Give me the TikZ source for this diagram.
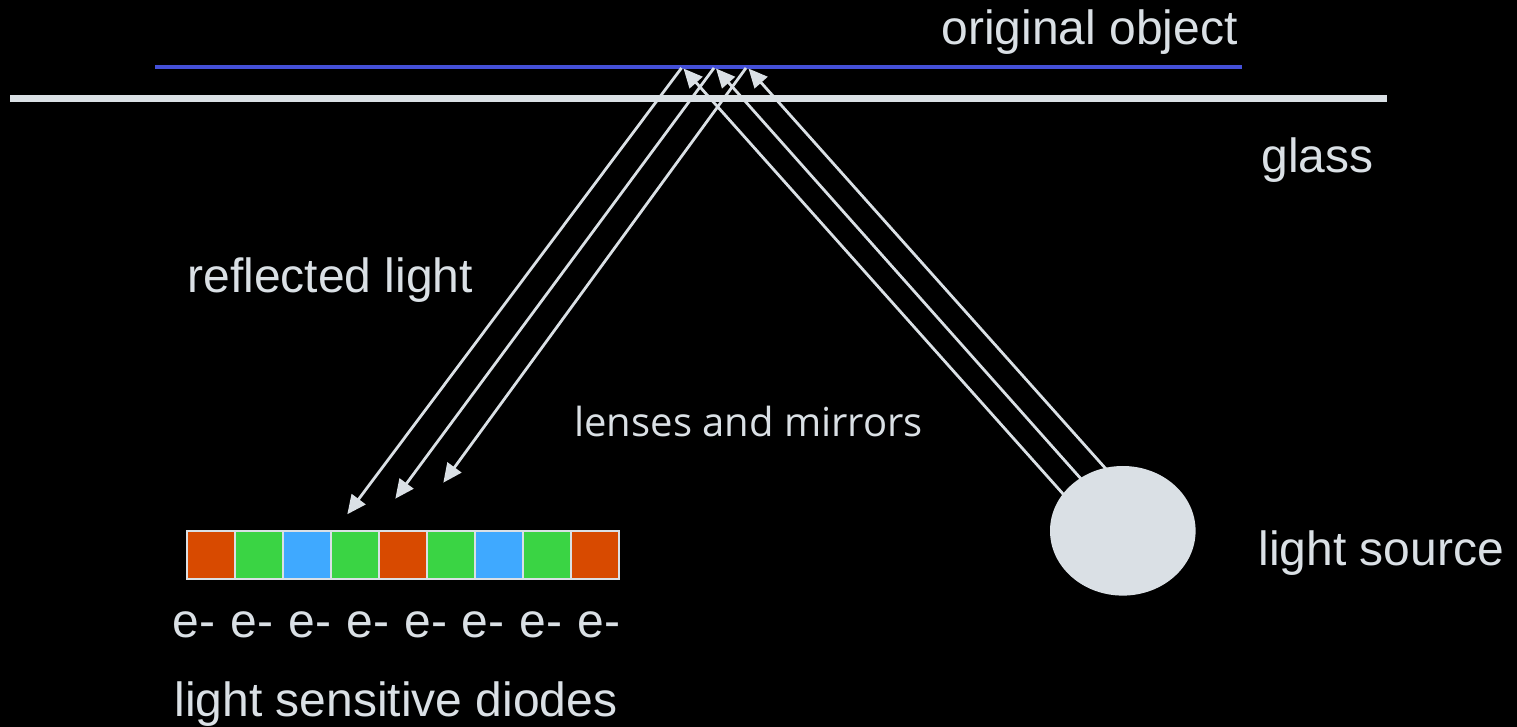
\documentclass[tikz,border=0pt]{standalone}
\usepackage{fontspec}
\setmainfont{Liberation Sans}
\newfontfamily\lensfont{Open Sans}
\usetikzlibrary{arrows.meta,shapes.geometric}
\definecolor{pale}{HTML}{DAE0E5}
\definecolor{objblue}{HTML}{4450D8}
\definecolor{cellred}{HTML}{D84A00}
\definecolor{cellgreen}{HTML}{3AD444}
\definecolor{cellblue}{HTML}{3FA9FF}
\tikzset{
  px/.style={x=0.5pt,y=-0.5pt},
  lbl/.style={text=pale,inner sep=0pt,anchor=base west,font=\fontsize{24}{28}\selectfont},
  smalllbl/.style={lbl,font=\lensfont\fontsize{20}{24}\selectfont},
  ray/.style={draw=pale,line width=1.4pt,-{Triangle[length=9.5pt,width=8.5pt,fill=pale]}},
  cell/.style={draw=pale,line width=1pt,minimum width=24pt,minimum height=24pt,inner sep=0pt,outer sep=0pt}
}
\begin{document}
\begin{tikzpicture}[px]
\useasboundingbox[fill=black] (0,0) rectangle (1517,727);
% object and glass
\coordinate (objL) at (155,67);
\coordinate (objR) at (1242,67);
\coordinate (glL) at (10,99);
\coordinate (glR) at (1387,99);
\draw[objblue,line width=2pt] (objL) -- (objR);
\draw[pale,line width=3.5pt] (glL) -- (glR);
% ray points
\coordinate (t1) at (683.5,68.5);
\coordinate (t2) at (716,68.5);
\coordinate (t3) at (748.5,68.5);
\coordinate (s1) at (1064,495);
\coordinate (s2) at (1082,480);
\coordinate (s3) at (1106,469);
\coordinate (u1) at (681.5,68);
\coordinate (u2) at (714,68);
\coordinate (u3) at (746,68);
\coordinate (d1) at (347.3,514.3);
\coordinate (d2) at (395.3,498.7);
\coordinate (d3) at (443.3,482.7);
\draw[ray] (s1) -- (t1);
\draw[ray] (s2) -- (t2);
\draw[ray] (s3) -- (t3);
\draw[ray] (u1) -- (d1);
\draw[ray] (u2) -- (d2);
\draw[ray] (u3) -- (d3);
% light source
\node[ellipse,fill=pale,minimum width=72.8pt,minimum height=64.8pt,inner sep=0pt,outer sep=0pt] (src) at (1122.8,530.8) {};
% diodes
\node[cell,fill=cellred]   (c1) at (211,555) {};
\node[cell,fill=cellgreen] (c2) at (259,555) {};
\node[cell,fill=cellblue]  (c3) at (307,555) {};
\node[cell,fill=cellgreen] (c4) at (355,555) {};
\node[cell,fill=cellred]   (c5) at (403,555) {};
\node[cell,fill=cellgreen] (c6) at (451,555) {};
\node[cell,fill=cellblue]  (c7) at (499,555) {};
\node[cell,fill=cellgreen] (c8) at (547,555) {};
\node[cell,fill=cellred]   (c9) at (595,555) {};
% labels
\node[lbl] (l1) at (941,45) {original object};
\node[lbl] (l2) at (1261,173) {glass};
\node[lbl] (l3) at (187,293) {reflected light};
\node[smalllbl] (l4) at (574,437) {lenses and mirrors};
\node[lbl] (l5) at (1258,566) {light source};
\node[lbl] (e1) at (172.5,637) {e-};
\node[lbl] (e2) at (230.5,637) {e-};
\node[lbl] (e3) at (288,637) {e-};
\node[lbl] (e4) at (346,637) {e-};
\node[lbl] (e5) at (404,637) {e-};
\node[lbl] (e6) at (461.5,637) {e-};
\node[lbl] (e7) at (519.5,637) {e-};
\node[lbl] (e8) at (577,637) {e-};
\node[lbl] (l6) at (174,716) {light sensitive diodes};
\end{tikzpicture}
\end{document}
